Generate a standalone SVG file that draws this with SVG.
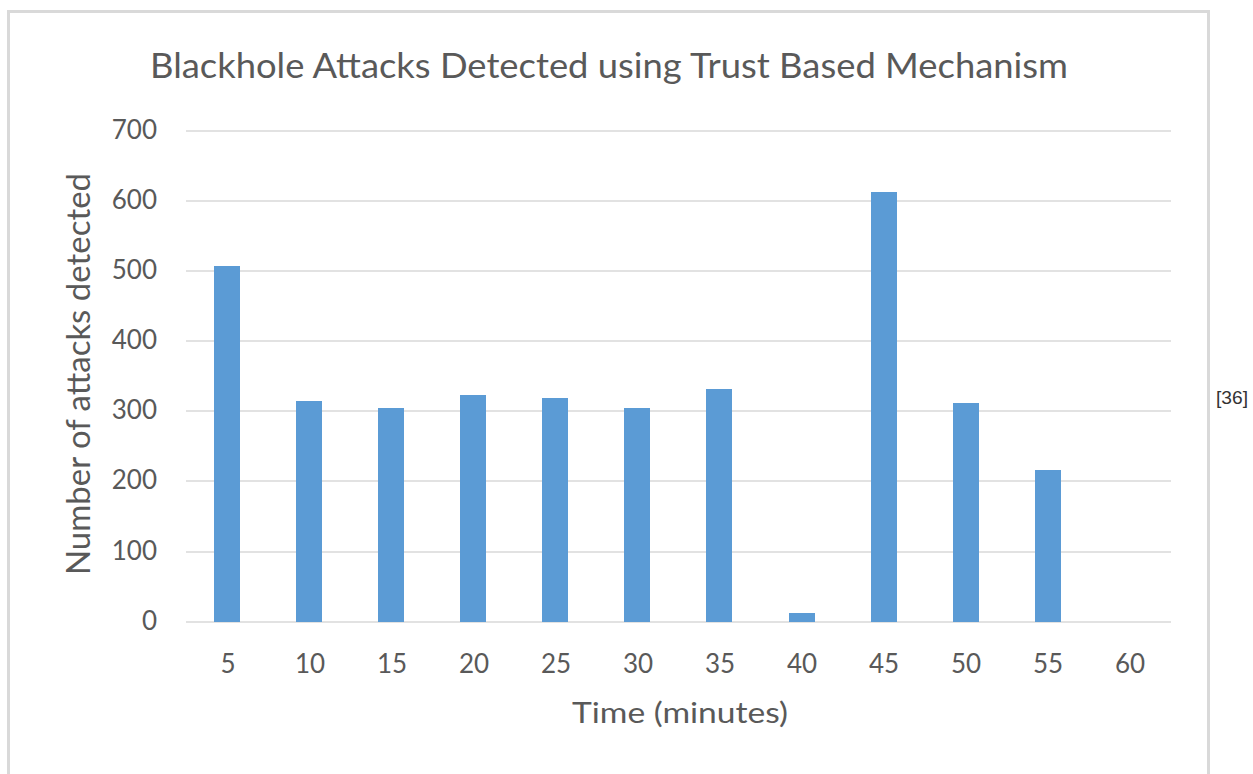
<svg xmlns="http://www.w3.org/2000/svg" width="1253" height="774" viewBox="0 0 1253 774">
  <style>
    .frame { fill: none; stroke: #d9d9d9; stroke-width: 3; }
    .grid { stroke: #d9d9d9; stroke-width: 1.3; }
    .bar { fill: #5b9bd5; }
    .txt { font-family: Lato, "Open Sans", "Liberation Sans", sans-serif; fill: #595959; }
    .tick { font-size: 26px; }
    .ylab { text-anchor: end; }
    .xlab { text-anchor: middle; }
    .title { font-size: 35px; text-anchor: middle; }
    .axtitle { font-size: 33px; text-anchor: middle; }
    .cite { font-family: "Liberation Sans", Arial, sans-serif; font-size: 18px; fill: #333333; }
  </style>
  <rect width="1253" height="774" fill="#ffffff"/>

  <!-- chart frame (open at the bottom) -->
  <path class="frame" d="M8.5,774 V11.5 H1208.5 V774"/>

  <!-- title -->
  <text id="title" class="txt title" x="609" y="78" textLength="918" lengthAdjust="spacingAndGlyphs">Blackhole Attacks Detected using Trust Based Mechanism</text>

  <!-- horizontal gridlines: 0..700 step 100 -->
  <g id="gridlines">
    <line class="grid" x1="186" y1="131" x2="1171" y2="131"/>
    <line class="grid" x1="186" y1="201" x2="1171" y2="201"/>
    <line class="grid" x1="186" y1="271" x2="1171" y2="271"/>
    <line class="grid" x1="186" y1="341" x2="1171" y2="341"/>
    <line class="grid" x1="186" y1="411" x2="1171" y2="411"/>
    <line class="grid" x1="186" y1="481" x2="1171" y2="481"/>
    <line class="grid" x1="186" y1="552" x2="1171" y2="552"/>
    <line class="grid" x1="186" y1="622" x2="1171" y2="622"/>
  </g>

  <!-- y-axis values -->
  <g id="y-axis" class="txt tick ylab">
    <text x="157" y="139">700</text>
    <text x="157" y="209">600</text>
    <text x="157" y="279">500</text>
    <text x="157" y="349">400</text>
    <text x="157" y="419">300</text>
    <text x="157" y="489">200</text>
    <text x="157" y="560">100</text>
    <text x="157" y="630">0</text>
  </g>

  <!-- bars -->
  <g id="bars">
    <rect id="bar-5"  class="bar" x="214" y="266" width="26" height="356"/>
    <rect id="bar-10" class="bar" x="296" y="401" width="26" height="221"/>
    <rect id="bar-15" class="bar" x="378" y="408" width="26" height="214"/>
    <rect id="bar-20" class="bar" x="460" y="395" width="26" height="227"/>
    <rect id="bar-25" class="bar" x="542" y="398" width="26" height="224"/>
    <rect id="bar-30" class="bar" x="624" y="408" width="26" height="214"/>
    <rect id="bar-35" class="bar" x="706" y="389" width="26" height="233"/>
    <rect id="bar-40" class="bar" x="789" y="613" width="26" height="9"/>
    <rect id="bar-45" class="bar" x="871" y="192" width="26" height="430"/>
    <rect id="bar-50" class="bar" x="953" y="403" width="26" height="219"/>
    <rect id="bar-55" class="bar" x="1035" y="470" width="26" height="152"/>
  </g>

  <!-- x-axis categories -->
  <g id="x-axis" class="txt tick xlab">
    <text x="228" y="673">5</text>
    <text x="310" y="673">10</text>
    <text x="392" y="673">15</text>
    <text x="474" y="673">20</text>
    <text x="556" y="673">25</text>
    <text x="638" y="673">30</text>
    <text x="720" y="673">35</text>
    <text x="802" y="673">40</text>
    <text x="884" y="673">45</text>
    <text x="966" y="673">50</text>
    <text x="1048" y="673">55</text>
    <text x="1130" y="673">60</text>
  </g>

  <!-- axis titles -->
  <text id="x-title" class="txt axtitle" x="680" y="723" style="font-size:28px" textLength="216" lengthAdjust="spacingAndGlyphs">Time (minutes)</text>
  <text id="y-title" class="txt axtitle" transform="translate(90,374) rotate(-90)" x="0" y="0" textLength="402" lengthAdjust="spacingAndGlyphs">Number of attacks detected</text>

  <!-- citation -->
  <text id="cite" class="cite" x="1216" y="404" textLength="32" lengthAdjust="spacingAndGlyphs">[36]</text>
</svg>
